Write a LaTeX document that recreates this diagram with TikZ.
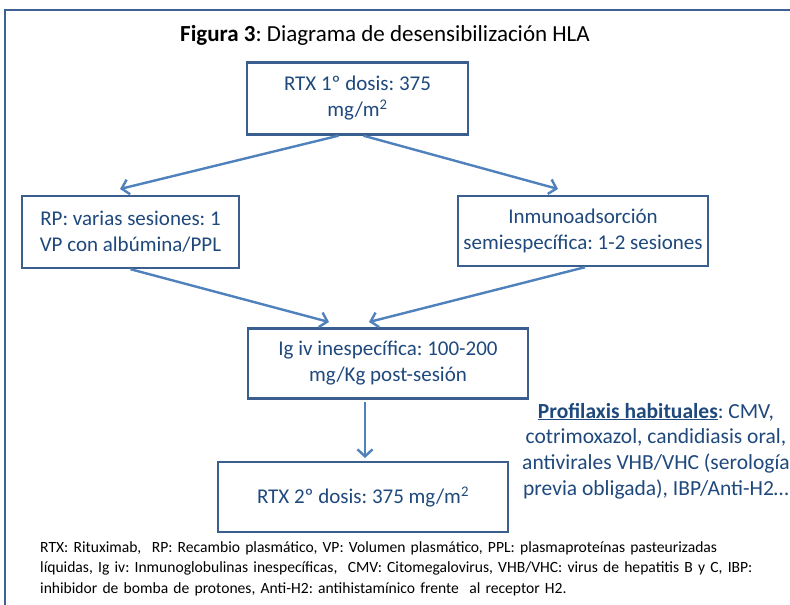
\documentclass[tikz,border=0pt]{standalone}
\usepackage{fontspec}
\setmainfont{Carlito}
\usetikzlibrary{arrows.meta,calc}
\definecolor{framecol}{HTML}{3E6293}
\definecolor{boxcol}{HTML}{3A5F8E}
\definecolor{arrcol}{HTML}{4F81BD}
\definecolor{txtcol}{HTML}{1F497D}
\frenchspacing
\begin{document}
\begin{tikzpicture}[x=1pt,y=-1pt,
  flowbox/.style={draw=boxcol,line width=2.4pt,align=center,text=txtcol,
    font=\fontsize{21}{26}\selectfont,inner sep=0pt},
  flowarrow/.style={draw=arrcol,line width=2.4pt,
    -{Straight Barb[length=7pt,width=15pt,line width=2.4pt]}}]
\useasboundingbox (0,0) rectangle (790,605);
\clip (0,0) rectangle (790,605);
\fill[white] (0,0) rectangle (790,605);
\draw[framecol,line width=2.2pt] (5,800) -- (5,10) -- (900,10);
\node[font=\fontsize{23}{26}\selectfont] (title) at (385,35) {\textbf{Figura 3}: Diagrama de desensibilización HLA};
\node[flowbox,minimum width=221pt,minimum height=72pt] (top) at (357.5,98.5) {RTX 1º dosis: 375\\mg/m\textsuperscript{2}};
\node[flowbox,minimum width=217pt,minimum height=72pt] (left) at (130.5,232) {RP: varias sesiones: 1\\VP con albúmina/PPL};
\node[flowbox,minimum width=250pt,minimum height=70pt] (right) at (583,231) {Inmunoadsorción\\semiespecífica: 1-2 sesiones};
\node[flowbox,minimum width=280pt,minimum height=70pt] (mid) at (388,363.5) {Ig iv inespecífica: 100-200\\mg/Kg post-sesión};
\node[flowbox,minimum width=290pt,minimum height=70pt] (bot) at (363,497) {RTX 2º dosis: 375 mg/m\textsuperscript{2}};
\node[align=center,text=txtcol,font=\fontsize{21.5}{25.8}\selectfont,inner sep=0pt] (prof) at (656,451) {\underline{\textbf{Profilaxis habituales}}: CMV,\\cotrimoxazol, candidiasis oral,\\antivirales VHB/VHC (serología\\previa obligada), IBP/Anti-H2…};
\node[anchor=north west,align=left,font=\fontsize{15.6}{20.5}\selectfont,inner sep=0pt,text width=750pt] (foot) at (40,541) {RTX: Rituximab,\ \ RP: Recambio plasmático, VP: Volumen plasmático, PPL: plasmaproteínas pasteurizadas\\líquidas, Ig iv: Inmunoglobulinas inespecíficas,\ \ CMV: Citomegalovirus, VHB/VHC: virus de hepatitis B y C, IBP:\\inhibidor de bomba de protones, Anti-H2: antihistamínico frente\ \ al receptor H2.};
\coordinate (tl) at (120,189);
\coordinate (tr) at (558,189);
\coordinate (ml) at (329,322);
\coordinate (mr) at (369,322);
\coordinate (mb) at (365,458);
\draw[flowarrow] ($(top.south)+(-19,0)$) -- (tl);
\draw[flowarrow] ($(top.south)+(6,0)$) -- (tr);
\draw[flowarrow] ($(left.south)+(0,0)$) -- (ml);
\draw[flowarrow] ($(right.south)+(2,0)$) -- (mr);
\draw[flowarrow] ($(mid.south)+(-23,2)$) -- (mb);
\end{tikzpicture}
\end{document}
